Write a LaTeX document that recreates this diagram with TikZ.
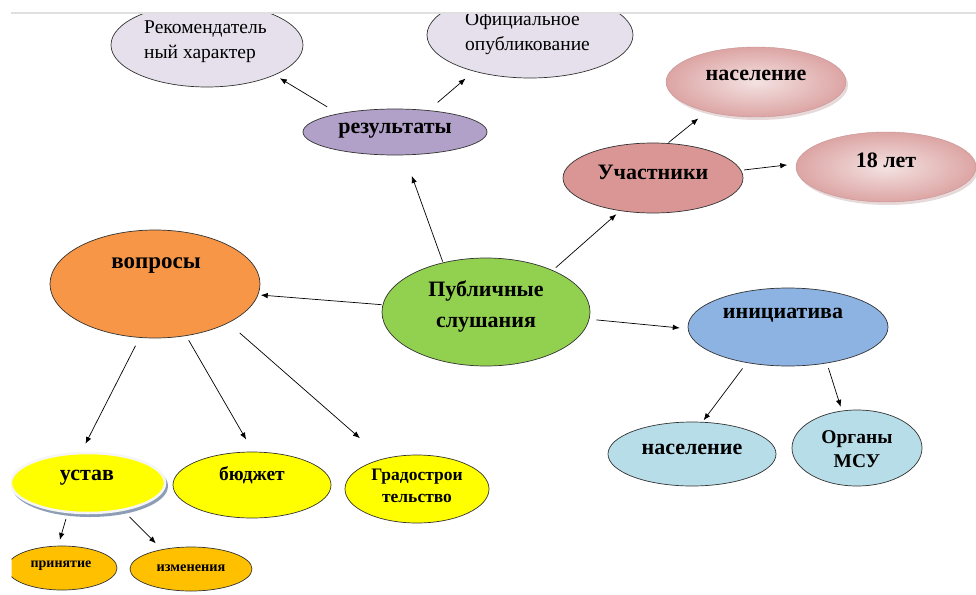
\documentclass[tikz,border=0pt]{standalone}
\usepackage{fontspec}
\setmainfont{Liberation Serif}
\usetikzlibrary{arrows.meta,shapes.geometric}
\definecolor{topc}{HTML}{E6E0EC}
\definecolor{resc}{HTML}{B1A0C7}
\definecolor{uchc}{HTML}{D99694}
\definecolor{pinkl}{HTML}{F4E2E2}
\definecolor{pinkd}{HTML}{DCA5A4}
\definecolor{pubc}{HTML}{92D050}
\definecolor{vopc}{HTML}{F79646}
\definecolor{inic}{HTML}{8DB3E2}
\definecolor{bluel}{HTML}{B7DDE8}
\definecolor{yel}{HTML}{FFFF00}
\definecolor{orc}{HTML}{FFC000}
\definecolor{shad}{HTML}{8C9DB5}
\tikzset{
  ell/.style={ellipse, inner sep=0pt, draw=black!80, line width=0.7pt},
  pinkell/.style={ellipse, inner sep=0pt, draw=pinkd!90!black, line width=0.4pt, inner color=pinkl, outer color=pinkd},
  txt/.style={inner sep=0pt, align=center, font=\bfseries\fontsize{22}{31}\selectfont},
  ntxt/.style={inner sep=0pt, align=left, font=\fontsize{19.5}{25}\selectfont},
  arr/.style={-{Latex[length=7pt,width=5.5pt]}, line width=0.7pt, black}
}
\begin{document}
\begin{tikzpicture}[x=1pt,y=-1pt]
\useasboundingbox (0,0) rectangle (976,594);
\fill[white] (0,0) rectangle (976,594);
\begin{scope}
\clip (11.5,13.5) rectangle (976,594);
% top results
\node[ell, fill=topc, minimum width=192pt, minimum height=84pt] (rek) at (207,45) {};
\node[ntxt, anchor=west] (rekt) at (144,42) {Рекомендатель\\ный характер};
\node[ell, fill=topc, minimum width=206pt, minimum height=86pt] (ofi) at (530,35) {};
\node[ntxt, anchor=west] (ofit) at (465,33) {Официальное\\опубликование};
\node[ell, fill=resc, minimum width=184pt, minimum height=46pt] (res) at (395,132) {};
\node[txt] (rest) at (395,131) {результаты};
% participants
\fill[pinkd!80!black, opacity=0.3] (758,85) ellipse [x radius=90, y radius=35];
\node[pinkell, minimum width=180pt, minimum height=70pt] (nas1) at (756,82) {};
\node[txt] (nas1t) at (756,75) {население};
\fill[pinkd!80!black, opacity=0.3] (888,170) ellipse [x radius=90, y radius=35];
\node[pinkell, minimum width=180pt, minimum height=70pt] (age) at (886,167) {};
\node[txt] (aget) at (886,160) {18 лет};
\node[ell, fill=uchc, minimum width=180pt, minimum height=70pt] (uch) at (653,178) {};
\node[txt] (ucht) at (653,172) {Участники};
% center
\node[ell, fill=pubc, minimum width=208pt, minimum height=108pt] (pub) at (486,312) {};
\node[txt] (pubt) at (486,306) {Публичные\\слушания};
% questions
\node[ell, fill=vopc, minimum width=210pt, minimum height=108pt] (vop) at (155,284) {};
\node[txt, font=\bfseries\fontsize{23}{26}\selectfont] (vopt) at (156,266) {вопросы};
% initiative
\node[ell, fill=inic, minimum width=200pt, minimum height=78pt] (ini) at (788,327) {};
\node[txt] (init) at (783,315) {инициатива};
\node[ell, fill=bluel, minimum width=168pt, minimum height=64pt] (nas2) at (692,454) {};
\node[txt] (nas2t) at (692,449) {население};
\node[ell, fill=bluel, minimum width=130pt, minimum height=76pt] (org) at (857,448) {};
\node[txt, font=\bfseries\fontsize{19.5}{24}\selectfont] (orgt) at (857,449) {Органы\\МСУ};
% bottom yellow
\fill[shad] (90,486) ellipse [x radius=78, y radius=31];
\node[ellipse, inner sep=0pt, fill=yel, draw=white!92!gray, line width=2.5pt, minimum width=154pt, minimum height=60pt] (ust) at (88,483) {};
\node[txt, font=\bfseries\fontsize{22}{24}\selectfont] (ustt) at (87,478) {устав};
\node[ell, fill=yel, minimum width=158pt, minimum height=66pt] (bud) at (252,485) {};
\node[txt, font=\bfseries\fontsize{19.5}{22}\selectfont] (budt) at (252,475) {бюджет};
\node[ell, fill=yel, minimum width=144pt, minimum height=68pt] (gra) at (417,489) {};
\node[txt, font=\bfseries\fontsize{17.5}{22}\selectfont] (grat) at (417,486) {Градострои\\тельство};
\node[ell, fill=orc, minimum width=110pt, minimum height=44pt] (pri) at (62,568) {};
\node[txt, font=\bfseries\fontsize{14}{16}\selectfont] (prit) at (61,566) {принятие};
\node[ell, fill=orc, minimum width=122pt, minimum height=44pt] (izm) at (191,569) {};
\node[txt, font=\bfseries\fontsize{14.3}{16}\selectfont] (izmt) at (191,568) {изменения};
% arrows
\draw[arr, shorten <=13pt, shorten >=6pt] (res.162.6) -- (rek.-24.6);
\draw[arr, shorten <=12pt, shorten >=11pt] (res.33.7) -- (ofi.213.9);
\draw[arr, shorten <=1pt, shorten >=22pt] (pub.131.4) -- (res.-68.9);
\draw[arr, shorten <=4pt, shorten >=5pt] (pub.32.2) -- (uch.-135);
\draw[arr, shorten <=1pt, shorten >=11pt] (uch.67) -- (nas1.-149.3);
\draw[arr, shorten <=3pt, shorten >=9pt] (uch.5.7) -- (age.178.6);
\draw[arr, shorten <=1pt, shorten >=2.5pt] (pub.176.1) -- (vop.-6.5);
\draw[arr, shorten <=7pt, shorten >=8pt] (pub.-4.2) -- (ini.181);
\draw[arr, shorten <=9pt, shorten >=9pt] (vop.-106.2) -- (ust.102.7);
\draw[arr, shorten <=5pt, shorten >=14pt] (vop.-59.5) -- (bud.88.8);
\draw[arr, shorten <=15pt, shorten >=31pt] (vop.-28.1) -- (gra.138.2);
\draw[arr, shorten <=7pt, shorten >=2pt] (ini.-139) -- (nas2.72);
\draw[arr, shorten <=5pt, shorten >=4pt] (ini.-43.6) -- (org.112.5);
\draw[arr, shorten <=6pt, shorten >=6pt] (ust.-124.4) -- (pri.100);
\draw[arr, shorten <=8.5pt, shorten >=8.5pt] (ust.-38.2) -- (izm.146.3);
\end{scope}
\draw[black!12, line width=1.2pt] (11,13) -- (976,13);
\end{tikzpicture}
\end{document}
